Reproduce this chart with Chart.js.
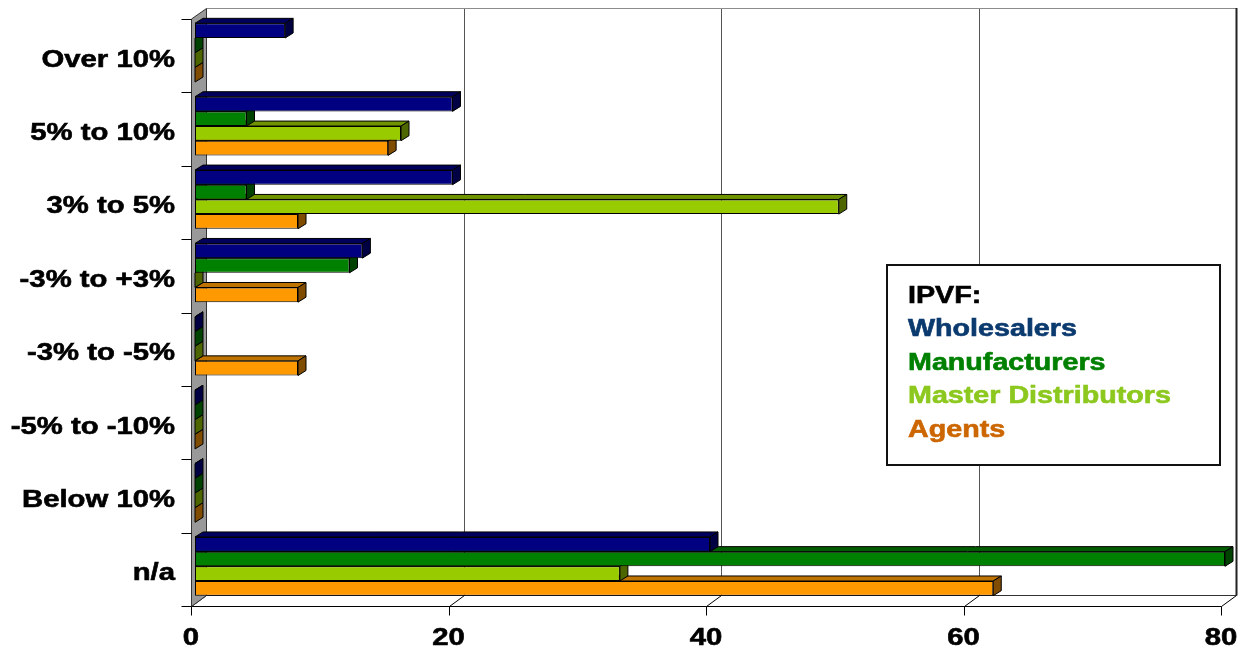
<!DOCTYPE html>
<html>
<head>
<meta charset="utf-8">
<script src="https://cdn.jsdelivr.net/npm/chart.js@4/dist/chart.umd.min.js"></script>
<style>
  html, body { margin: 0; padding: 0; background: #fff; }
  #wrap { width: 1247px; height: 649px; }
</style>
</head>
<body>
<div id="wrap"><canvas id="chart" width="1247" height="649"></canvas></div>
<script>
const categories = ['Over 10%', '5% to 10%', '3% to 5%', '-3% to +3%', '-3% to -5%', '-5% to -10%', 'Below 10%', 'n/a'];
const wholesalers = [7, 20, 20, 13, 0, 0, 0, 40];
const manufacturers = [0, 4, 4, 12, 0, 0, 0, 80];
const masterDistributors = [0, 16, 50, 0, 0, 0, 0, 33];
const agents = [0, 15, 8, 8, 8, 0, 0, 62];
const xTicks = [0, 20, 40, 60, 80];
const legendTitle = 'IPVF:';
const seriesNames = ['Wholesalers', 'Manufacturers', 'Master Distributors', 'Agents'];

// face colours: front, top, side, and the legend text colour
const frontColors = ['#000080', '#008000', '#99cc00', '#ff9900'];
const topColors = ['#00005c', '#005c00', '#6f9400', '#bf7300'];
const sideColors = ['#000042', '#004200', '#4d6600', '#804c00'];
const legendColors = ['#0b3a6e', '#008000', '#8cc81e', '#cc6600'];

// depth offsets: bar extrusion, and front/back frame planes relative to the bars
const BAR_DX = 8, BAR_DY = 5;
const FRONT_DX = -4, FRONT_DY = 3;
const BACK_DX = 11, BACK_DY = -8;
const STRETCH = 1.22;
const FONT = '"Liberation Sans", Arial, sans-serif';

function line(ctx, x1, y1, x2, y2) {
    ctx.beginPath();
    ctx.moveTo(x1, y1);
    ctx.lineTo(x2, y2);
    ctx.stroke();
}

function poly(ctx, pts, fill) {
    ctx.beginPath();
    ctx.moveTo(pts[0][0], pts[0][1]);
    pts.slice(1).forEach(p => ctx.lineTo(p[0], p[1]));
    ctx.closePath();
    ctx.fillStyle = fill;
    ctx.fill();
    ctx.stroke();
}

// wide heavy text, drawn with a horizontal stretch
function wideText(ctx, text, x, y, align, color, size) {
    ctx.save();
    ctx.translate(x, y);
    ctx.scale(STRETCH, 1);
    ctx.font = `bold ${size}px ${FONT}`;
    ctx.textAlign = align;
    ctx.textBaseline = 'alphabetic';
    ctx.fillStyle = color;
    ctx.strokeStyle = color;
    ctx.lineWidth = 0.6;
    ctx.fillText(text, 0, 0);
    ctx.strokeText(text, 0, 0);
    ctx.restore();
}

const frame3d = {
    id: 'frame3d',
    beforeDatasetsDraw(chart) {
        const { ctx, chartArea: a, scales: { x, y } } = chart;
        const max = xTicks[xTicks.length - 1];
        const fx = v => Math.round(x.getPixelForValue(v) + FRONT_DX) + 0.5;
        const bx = v => Math.round(x.getPixelForValue(v) + BACK_DX) + 0.5;
        const fTop = a.top + FRONT_DY, fBottom = Math.round(a.bottom + FRONT_DY) + 0.5;
        const bTop = Math.round(a.top + BACK_DY) + 0.5, bBottom = Math.round(a.bottom + BACK_DY) + 0.5;

        ctx.save();
        ctx.lineWidth = 1;

        // back wall grid
        ctx.strokeStyle = '#555';
        xTicks.slice(1, -1).forEach(v => line(ctx, bx(v), bTop, bx(v), bBottom));
        ctx.strokeStyle = '#8c8c8c';
        line(ctx, bx(0), bTop, bx(max), bTop);
        ctx.strokeStyle = '#333';
        line(ctx, bx(0), bBottom, bx(max), bBottom);
        ctx.lineWidth = 2;
        ctx.strokeStyle = '#222';
        line(ctx, bx(max), bTop - 0.5, bx(max), bBottom);

        // floor edges and tick marks
        ctx.lineWidth = 1;
        ctx.strokeStyle = '#000';
        xTicks.forEach(v => {
            line(ctx, fx(v), fBottom, bx(v), bBottom);
            line(ctx, fx(v), fBottom, fx(v), fBottom + 9);
        });
        line(ctx, fx(0), fBottom, fx(max), fBottom);

        // left wall
        ctx.strokeStyle = '#333';
        poly(ctx, [[fx(0), fTop], [bx(0), bTop], [bx(0), bBottom], [fx(0), fBottom]], '#999999');

        // category ticks
        ctx.strokeStyle = '#000';
        const band = a.height / categories.length;
        for (let i = 0; i <= categories.length; i++) {
            const yb = Math.round(a.top + i * band + FRONT_DY) + 0.5;
            line(ctx, fx(0) - 10, yb, fx(0), yb);
        }

        // top and side faces, lowest bar first so the one above covers it
        ctx.strokeStyle = '#000';
        for (let d = chart.data.datasets.length - 1; d >= 0; d--) {
            chart.getDatasetMeta(d).data.forEach(bar => {
                const left = Math.min(bar.base, bar.x), right = Math.max(bar.base, bar.x);
                const top = bar.y - bar.height / 2, bottom = bar.y + bar.height / 2;
                poly(ctx, [[left, top], [right, top], [right + BAR_DX, top - BAR_DY], [left + BAR_DX, top - BAR_DY]], topColors[d]);
                poly(ctx, [[right, top], [right + BAR_DX, top - BAR_DY], [right + BAR_DX, bottom - BAR_DY], [right, bottom]], sideColors[d]);
            });
        }
        ctx.restore();
    },
    afterDraw(chart) {
        const { ctx, scales: { x, y } } = chart;
        categories.forEach((c, i) => wideText(ctx, c, 175, y.getPixelForValue(i) + 14, 'right', '#000', 24));
        xTicks.forEach(v => wideText(ctx, String(v), x.getPixelForValue(v) + FRONT_DX, 645, 'center', '#000', 24));

        // legend box
        ctx.save();
        ctx.fillStyle = '#fff';
        ctx.fillRect(887, 265, 333, 200);
        ctx.lineWidth = 2;
        ctx.strokeStyle = '#111';
        ctx.strokeRect(887, 265, 333, 200);
        ctx.restore();
        wideText(ctx, legendTitle, 908, 303, 'left', '#000', 23.5);
        seriesNames.forEach((n, i) => wideText(ctx, n, 908, 336 + i * 33.7, 'left', legendColors[i], 23.5));
    }
};

const seriesValues = [wholesalers, manufacturers, masterDistributors, agents];

new Chart(document.getElementById('chart'), {
    type: 'bar',
    data: {
        labels: categories,
        datasets: seriesValues.map((vals, i) => ({
            label: seriesNames[i],
            data: vals,
            backgroundColor: frontColors[i],
            borderColor: '#000',
            borderWidth: 1,
            borderSkipped: false,
            categoryPercentage: 0.8,
            barPercentage: 1.0,
            clip: false
        }))
    },
    options: {
        indexAxis: 'y',
        responsive: false,
        animation: false,
        layout: { padding: { left: 195, right: 22, top: 16, bottom: 46 } },
        plugins: { legend: { display: false }, tooltip: { enabled: false } },
        scales: {
            x: { display: false, min: 0, max: 80 },
            y: { display: false }
        }
    },
    plugins: [frame3d]
});
</script>
</body>
</html>
